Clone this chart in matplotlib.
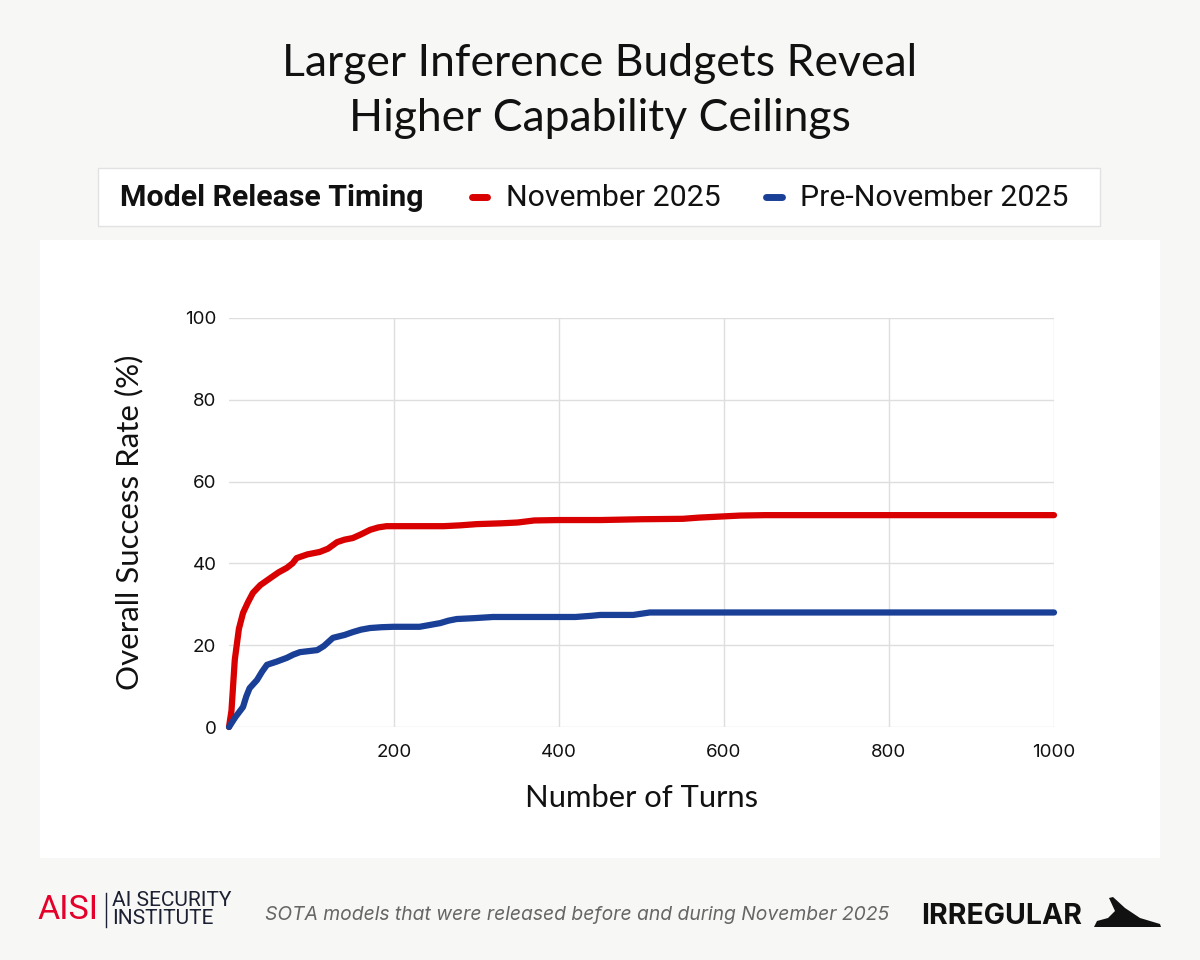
import matplotlib
matplotlib.use("Agg")
import matplotlib.pyplot as plt
from matplotlib.patches import Rectangle, Polygon
from matplotlib.lines import Line2D

# data
nov_turns = [0, 3, 7, 12, 17, 23, 29, 38, 50, 60, 70, 77, 82, 95, 110, 120, 131, 140, 150, 160,
             171, 181, 191, 200, 230, 260, 280, 300, 330, 350, 370, 400, 450, 500, 550, 570,
             600, 620, 650, 700, 800, 900, 1000]
nov_rate = [0, 4, 16.4, 24, 27.9, 30.5, 32.8, 34.7, 36.4, 37.8, 38.9, 40.0, 41.3, 42.2, 42.8,
            43.6, 45.2, 45.8, 46.2, 47.1, 48.2, 48.8, 49.1, 49.1, 49.1, 49.1, 49.3, 49.6, 49.8,
            50.0, 50.5, 50.6, 50.6, 50.8, 50.9, 51.2, 51.5, 51.7, 51.8, 51.8, 51.8, 51.8, 51.8]

pre_turns = [0, 8, 17, 21, 25, 34, 40, 46, 58, 70, 78, 86, 107, 115, 126, 140, 150, 160, 171,
             185, 199, 231, 256, 266, 276, 296, 320, 350, 420, 440, 450, 490, 510, 550, 700, 1000]
pre_rate = [0, 2.5, 4.9, 7.5, 9.5, 11.5, 13.5, 15.2, 16.0, 16.9, 17.7, 18.3, 18.8, 19.8, 21.8,
            22.5, 23.2, 23.8, 24.2, 24.4, 24.5, 24.5, 25.4, 26.0, 26.4, 26.6, 26.9, 26.9, 26.9,
            27.2, 27.4, 27.4, 28.0, 28.0, 28.0, 28.0]

x_ticks = [200, 400, 600, 800, 1000]
y_ticks = [0, 20, 40, 60, 80, 100]

title = "Larger Inference Budgets Reveal\nHigher Capability Ceilings"
legend_title = "Model Release Timing"
series_names = ["November 2025", "Pre-November 2025"]
caption = "SOTA models that were released before and during November 2025"

RED = "#d80000"
BLUE = "#1a3f96"
BG = "#f7f7f5"

W, H = 1200, 960
fig = plt.figure(figsize=(12, 9.6), dpi=100, facecolor=BG)


def fx(px):
    return px / W


def fy(py):
    return 1 - py / H


# white card behind the plot
fig.patches.append(Rectangle((fx(40), fy(858)), fx(1120), 618 / H, transform=fig.transFigure,
                             facecolor="white", edgecolor="none", zorder=-2))

# legend box
fig.patches.append(Rectangle((fx(98), fy(226)), fx(1002), 58 / H, transform=fig.transFigure,
                             facecolor="white", edgecolor="#e2e2e2", lw=1, zorder=-2))

title_font = ["Lato", "DejaVu Sans"]
leg_font = ["Roboto", "DejaVu Sans"]

fig.text(0.5, fy(91), title, ha="center", va="center", fontsize=32, family=title_font,
         color="#111111", linespacing=1.42)

fig.text(fx(120), fy(198), legend_title, ha="left", va="center", fontsize=21.8,
         family=leg_font, fontweight="bold", color="#111111")
fig.text(fx(506), fy(198), series_names[0], ha="left", va="center", fontsize=21.8,
         family=leg_font, color="#111111")
fig.text(fx(800), fy(198), series_names[1], ha="left", va="center", fontsize=21.8,
         family=leg_font, color="#111111")
fig.lines.append(Line2D([fx(472), fx(487)], [fy(197), fy(197)], transform=fig.transFigure,
                        color=RED, lw=5, solid_capstyle="round"))
fig.lines.append(Line2D([fx(766), fx(782)], [fy(197), fy(197)], transform=fig.transFigure,
                        color=BLUE, lw=5, solid_capstyle="round"))

ax = fig.add_axes([fx(229), fy(727), fx(1054 - 229), (727 - 318) / H])
ax.set_facecolor("white")
ax.plot(nov_turns, nov_rate, color=RED, lw=4.5, solid_capstyle="round", solid_joinstyle="round",
        zorder=3, clip_on=False)
ax.plot(pre_turns, pre_rate, color=BLUE, lw=4.5, solid_capstyle="round", solid_joinstyle="round",
        zorder=3, clip_on=False)
ax.set_xlim(0, 1000)
ax.set_ylim(0, 100)
ax.set_xticks(x_ticks)
ax.set_yticks(y_ticks)
ax.grid(True, color="#dedede", lw=1)
ax.set_axisbelow(True)
for s in ax.spines.values():
    s.set_visible(False)
ax.tick_params(length=0, labelsize=13.5, colors="#111111")
ax.tick_params(axis="x", pad=12)
ax.tick_params(axis="y", pad=9)
for lab in ax.get_xticklabels() + ax.get_yticklabels():
    lab.set_family(["Inter", "DejaVu Sans"])
ax.set_xlabel("Number of Turns", fontsize=22.3, family=title_font, color="#111111", labelpad=17)
ax.set_ylabel("Overall Success Rate (%)", fontsize=22.5, family=title_font, color="#111111",
              labelpad=30)

# footer: AISI mark
fig.text(fx(37), fy(910), "AISI", ha="left", va="center", fontsize=24.5, family=["Roboto", "DejaVu Sans"],
         color="#e4002b")
fig.lines.append(Line2D([fx(106), fx(106)], [fy(893), fy(927)], transform=fig.transFigure,
                        color="#1c2033", lw=1))
fig.text(fx(112), fy(901), "AI SECURITY", ha="left", va="center", fontsize=15,
         family=["Roboto", "DejaVu Sans"], color="#1c2033")
fig.text(fx(112), fy(919), "INSTITUTE", ha="left", va="center", fontsize=15,
         family=["Roboto", "DejaVu Sans"], color="#1c2033")

fig.text(fx(265), fy(915), caption, ha="left", va="center", fontsize=13.9, style="italic",
         family=["Inter", "DejaVu Sans"], color="#666666")

fig.text(fx(921), fy(916), "IRREGULAR", ha="left", va="center", fontsize=20.5, fontweight="bold",
         family=["Inter", "DejaVu Sans"], color="#111111")
fin = [(1094, 927), (1097, 921), (1108, 918), (1115, 911), (1109, 898), (1113, 897),
       (1125, 908), (1140, 918), (1160, 924), (1161, 927)]
fig.patches.append(Polygon([(fx(a), fy(b)) for a, b in fin], closed=True,
                           transform=fig.transFigure, facecolor="#111111", edgecolor="none"))

fig.savefig("out.png", dpi=100, facecolor=BG)
